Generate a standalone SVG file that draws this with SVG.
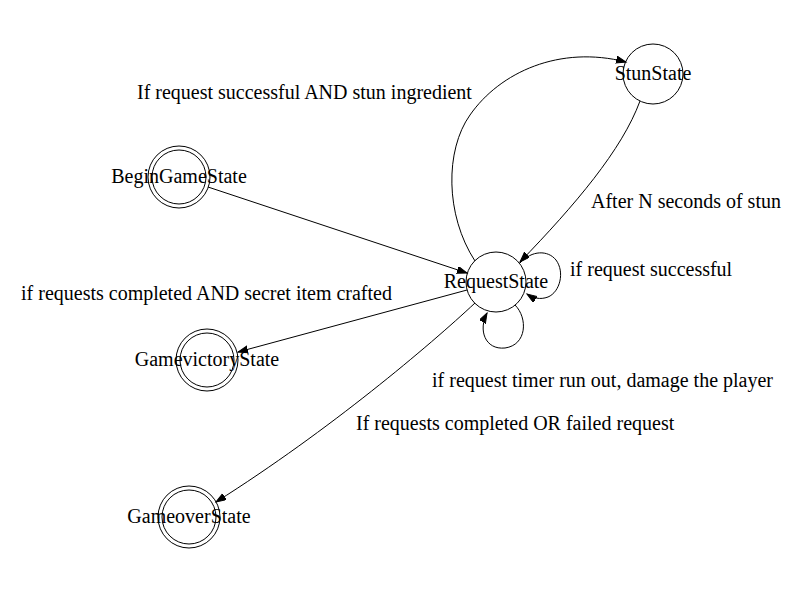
<svg xmlns="http://www.w3.org/2000/svg" width="800" height="600" viewBox="0 0 800 600">
<style>
  .node circle { fill: none; stroke: #000; stroke-width: 1; }
  .node text { font-family: "Liberation Serif", "Times New Roman", serif; font-size: 20px; text-anchor: middle; fill: #000; }
  .edge { fill: none; stroke: #000; stroke-width: 1; marker-end: url(#arrow); }
  .label { font-family: "Liberation Serif", "Times New Roman", serif; font-size: 20px; fill: #000; }
</style>
<defs>
  <marker id="arrow" markerUnits="userSpaceOnUse" markerWidth="12" markerHeight="10" refX="10" refY="3.5" orient="auto">
    <path d="M0,0 L10,3.5 L0,7 Z" fill="#000" stroke="#000" stroke-width="1"/>
  </marker>
</defs>
<rect width="800" height="600" fill="#fff"/>

<g id="connectors">
  <path class="edge" d="M208,187 L467,273"/>
  <path class="edge" d="M475,261 C445,215 445,150 470,115 C500,72 560,45 626,62"/>
  <path class="edge" d="M640,101 C622,150 575,205 520,262"/>
  <path class="edge" d="M520,263 C532,250 548,250 556,260 C565,272 560,292 548,297 C540,300 533,298 527,294"/>
  <path class="edge" d="M515,305 C528,318 527,345 505,348 C485,350 478,330 487,313"/>
  <path class="edge" d="M467,290 L238,352"/>
  <path class="edge" d="M475,303 C430,345 330,430 216,502"/>
</g>

<g id="edge-labels">
  <text class="label" x="137" y="99">If request successful AND stun ingredient</text>
  <text class="label" x="591" y="208">After N seconds of stun</text>
  <text class="label" x="570" y="276">if request successful</text>
  <text class="label" x="21" y="300">if requests completed AND secret item crafted</text>
  <text class="label" x="432" y="387">if request timer run out, damage the player</text>
  <text class="label" x="356" y="430">If requests completed OR failed request</text>
</g>

<g id="BeginGameState" class="node">
  <circle cx="179" cy="177" r="31"/>
  <circle cx="179" cy="177" r="27"/>
  <text x="179" y="183">BeginGameState</text>
</g>
<g id="RequestState" class="node">
  <circle cx="496" cy="282" r="30"/>
  <text x="496" y="288">RequestState</text>
</g>
<g id="StunState" class="node">
  <circle cx="653" cy="74" r="30"/>
  <text x="653" y="80">StunState</text>
</g>
<g id="GamevictoryState" class="node">
  <circle cx="207" cy="360" r="31"/>
  <circle cx="207" cy="360" r="27"/>
  <text x="207" y="366">GamevictoryState</text>
</g>
<g id="GameoverState" class="node">
  <circle cx="189" cy="517" r="31"/>
  <circle cx="189" cy="517" r="27"/>
  <text x="189" y="523">GameoverState</text>
</g>
</svg>
